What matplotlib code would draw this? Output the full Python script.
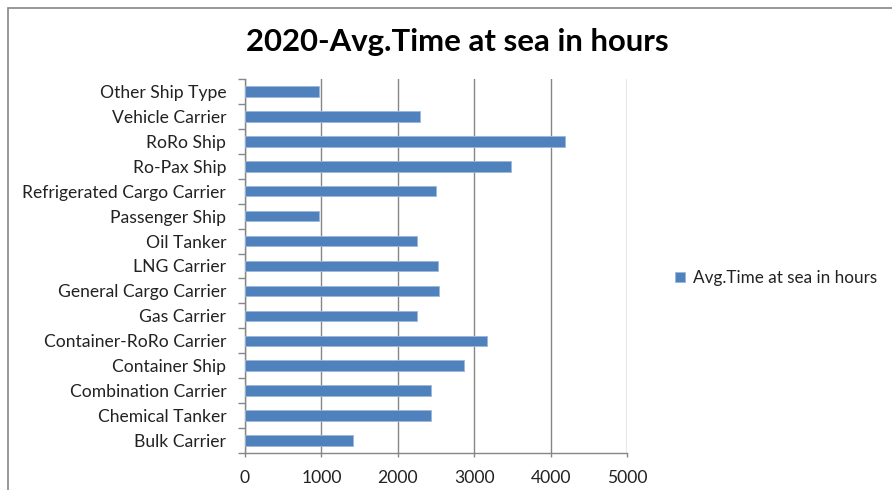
import numpy as np
import matplotlib.pyplot as plt
from matplotlib.patches import Rectangle

ship_types = ['Bulk Carrier', 'Chemical Tanker', 'Combination Carrier', 'Container Ship',
              'Container-RoRo Carrier', 'Gas Carrier', 'General Cargo Carrier', 'LNG Carrier',
              'Oil Tanker', 'Passenger Ship', 'Refrigerated Cargo Carrier', 'Ro-Pax Ship',
              'RoRo Ship', 'Vehicle Carrier', 'Other Ship Type']
hours_at_sea = [1410, 2440, 2440, 2865, 3170, 2245, 2540, 2525,
                2245, 975, 2500, 3480, 4185, 2285, 975]

plt.rcParams['font.family'] = ['Lato', 'DejaVu Sans']

fig = plt.figure(figsize=(8.92, 4.9), dpi=100)
# chart area outline
fig.patches.append(Rectangle((8 / 892, -0.1), 1.2, 1.1 - 8 / 490, transform=fig.transFigure,
                             fill=False, edgecolor='#868686', linewidth=1.2))

ax = fig.add_axes([245 / 892, 1 - 453 / 490, 382 / 892, 374 / 490])
y = np.arange(len(ship_types))
ax.barh(y, hours_at_sea, height=0.42, color='#4F81BD', edgecolor='#9DB7DB', linewidth=0.6,
        label='Avg.Time at sea in hours', zorder=3)

ax.set_xlim(0, 5000)
ax.set_ylim(-0.5, len(ship_types) - 0.5)
ax.set_xticks(np.arange(0, 5001, 1000))
ax.set_yticks(y)
ax.set_yticklabels(ship_types)
ax.set_yticks(np.arange(-0.5, len(ship_types), 1), minor=True)
ax.tick_params(axis='y', which='major', length=0, pad=13.5, labelsize=12.6, labelcolor='#222222')
ax.tick_params(axis='y', which='minor', length=5, color='#868686', width=1)
ax.tick_params(axis='x', length=3, color='#868686', width=1, labelsize=12.6, labelcolor='#222222', pad=9)

ax.grid(axis='x', color='#868686', linewidth=1, zorder=0)
for side in ['top', 'right']:
    ax.spines[side].set_visible(False)
for side in ['left', 'bottom']:
    ax.spines[side].set_color('#868686')
    ax.spines[side].set_linewidth(1)

fig.text(457 / 892, 1 - 42 / 490, '2020-Avg.Time at sea in hours', ha='center', va='center',
         fontsize=22.4, fontweight='bold', color='black')

fig.legend(loc='center left', bbox_to_anchor=(660 / 892, 1 - 278 / 490), frameon=False,
           handlelength=0.55, handleheight=0.55, handletextpad=0.5, fontsize=12.3, labelcolor='#222222')

fig.savefig('out.png', dpi=100)
